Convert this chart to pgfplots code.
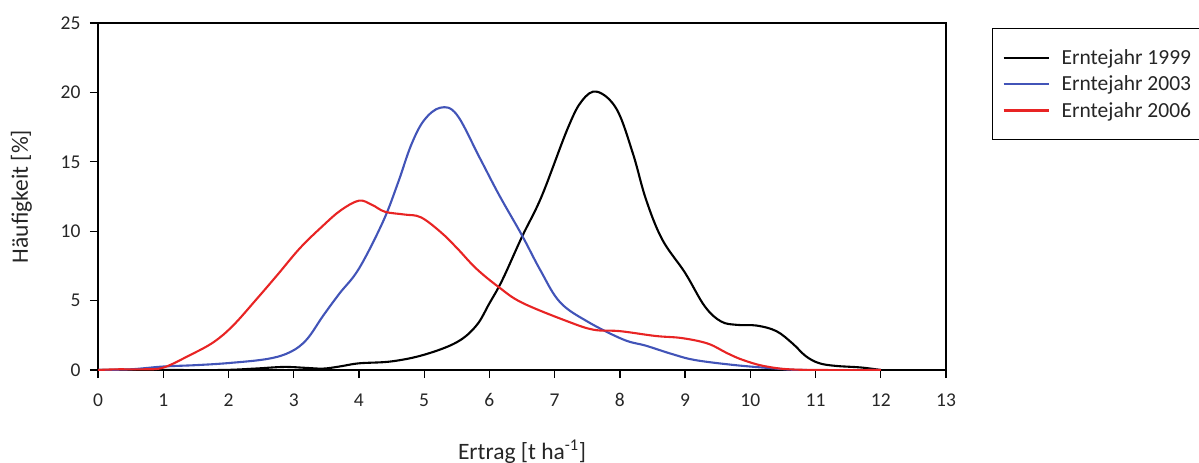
\documentclass[border=0pt]{standalone}
\usepackage{pgfplots}
\pgfplotsset{compat=1.18}
\usepackage{fontspec}
\setmainfont{Carlito}
\definecolor{cblue}{RGB}{66,84,184}
\definecolor{cred}{RGB}{232,36,36}
\begin{document}
\begin{tikzpicture}
\useasboundingbox (0,0) rectangle (1199pt,463pt);
\begin{axis}[
  at={(98pt,93pt)}, anchor=south west,
  scale only axis, width=848pt, height=347pt,
  xmin=0, xmax=13, ymin=0, ymax=25,
  xtick={0,1,...,13}, ytick={0,5,...,25},
  tick align=outside, major tick length=8pt,
  xtick pos=bottom, ytick pos=left,
  axis line style={line width=1.3pt},
  every tick/.style={black, line width=1.3pt},
  /pgf/number format/assume math mode=true,
  ticklabel style={font=\fontsize{19.5}{22}\selectfont, text=black!85},
  xticklabel style={yshift=-12pt},
  yticklabel style={xshift=-6pt},
  xlabel={Ertrag [t ha\textsuperscript{-1}]},
  ylabel={Häufigkeit [\%]},
  label style={font=\fontsize{23.5}{26}\selectfont, text=black!85},
  xlabel style={yshift=-26pt},
  ylabel style={yshift=22pt},
  legend style={at={(1.054,0.986)}, anchor=north west, draw=black, line width=1.2pt,
    font=\fontsize{21.5}{24}\selectfont, inner xsep=10pt, inner ysep=19pt, row sep=6pt,
    column sep=10pt, cells={anchor=west}, text=black!85},
  legend cell align=left,
  legend image code/.code={\draw[#1, line width=2.2pt] (0pt,0pt) -- (45pt,0pt);},
  every axis plot/.append style={line width=2.1pt, smooth, tension=0.6},
]
\addplot[black] coordinates {(0,0) (1,0) (1.9,0) (2.4,0.1) (2.85,0.22) (3.2,0.15) (3.45,0.1) (3.7,0.25) (4,0.48) (4.5,0.62) (5,1.1) (5.5,2.0) (5.8,3.2) (6.0,4.8) (6.2,6.5) (6.5,9.6) (6.8,12.5) (7.2,17.4) (7.42,19.4) (7.65,20.05) (7.95,18.8) (8.2,15.6) (8.4,12.3) (8.65,9.4) (9.0,7.0) (9.3,4.6) (9.55,3.5) (9.8,3.25) (10.1,3.2) (10.4,2.8) (10.65,1.9) (10.85,1.0) (11.05,0.5) (11.3,0.3) (11.7,0.18) (12,0)};
\addlegendentry{Erntejahr 1999\hspace{20pt}}
\addplot[cblue] coordinates {(0,0) (0.5,0.05) (1,0.25) (1.5,0.35) (2,0.5) (2.6,0.8) (2.95,1.3) (3.2,2.2) (3.45,3.9) (3.7,5.5) (4.0,7.3) (4.37,10.7) (4.6,13.5) (4.8,16.2) (5.0,18.0) (5.25,18.9) (5.5,18.4) (5.85,15.3) (6.15,12.6) (6.5,9.7) (6.78,7.2) (7.08,4.9) (7.5,3.5) (8.05,2.2) (8.4,1.75) (8.8,1.15) (9.15,0.72) (9.75,0.36) (10.35,0.12) (10.8,0) (12,0)};
\addlegendentry{Erntejahr 2003}
\addplot[cred] coordinates {(0,0) (0.3,0.05) (0.7,0.05) (1,0.17) (1.4,1.05) (1.77,2.0) (2.07,3.2) (2.43,5.1) (2.75,6.85) (3.1,8.8) (3.45,10.4) (3.72,11.5) (4.0,12.2) (4.2,11.9) (4.4,11.4) (4.7,11.2) (4.95,11.0) (5.25,9.95) (5.5,8.8) (5.8,7.3) (6.15,5.95) (6.5,4.85) (7.2,3.5) (7.6,2.9) (8.0,2.8) (8.55,2.45) (8.95,2.3) (9.35,1.9) (9.65,1.2) (9.9,0.7) (10.25,0.25) (10.75,0.02) (12,0)};
\addlegendentry{Erntejahr 2006}
\end{axis}
\end{tikzpicture}
\end{document}
